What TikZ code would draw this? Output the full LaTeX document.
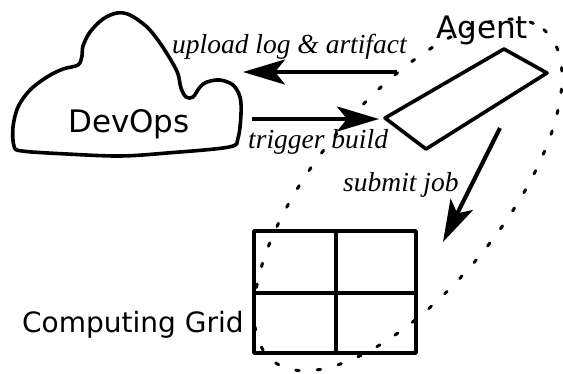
\documentclass[tikz,border=0pt]{standalone}
\usepackage{fontspec}
\setmainfont{DejaVu Sans}
\newfontfamily\labfont{Liberation Serif}
\usetikzlibrary{arrows.meta}
\tikzset{
  big/.style={font=\fontsize{31}{31}\selectfont, inner sep=0pt, anchor=base west},
  mid/.style={font=\fontsize{28}{28}\selectfont, inner sep=0pt, anchor=base west},
  lab/.style={font=\labfont\itshape\fontsize{27.5}{27.5}\selectfont, inner sep=0pt, anchor=base west},
  shape line/.style={line width=3.6pt, line join=round},
  flow/.style={line width=4.2pt, -{Stealth[length=42pt, width=25pt, inset=10pt]}},
  dotline/.style={line width=3pt, line cap=round, dash pattern=on 3.5pt off 18pt}
}
\begin{document}
\begin{tikzpicture}[x=1pt, y=-1pt]
\useasboundingbox (0,0) rectangle (563,373);
% cloud
\draw[shape line] plot[smooth cycle, tension=0.55] coordinates{
 (14,146) (13,127) (18,107) (30,90) (47,77) (63,69) (78,65) (82,56) (83,46)
 (90,32) (103,19) (117,13) (130,15) (147,27) (160,43) (172,62) (178,74)
 (181,88) (186,97) (193,97) (200,87) (207,82) (220,80) (233,85) (240,97)
 (241,114) (238,138) (229,147) (167,153) (120,156) (67,154) (22,151)};
\node[big] (devops) at (68,132) {DevOps};
% agent
\coordinate (a1) at (385,118);
\coordinate (a2) at (504,49);
\coordinate (a3) at (547,73);
\coordinate (a4) at (426,149);
\draw[shape line] (a1) -- (a2) -- (a3) -- (a4) -- cycle;
\node[big] (agent) at (436,38) {Agent};
% grid
\node[draw, shape line, minimum width=162pt, minimum height=122pt, inner sep=0pt] (grid) at (335,292) {};
\draw[shape line] ([xshift=1pt]grid.north) -- ([xshift=1pt]grid.south);
\draw[shape line] ([yshift=-1pt]grid.west) -- ([yshift=-1pt]grid.east);
\node[mid] (cg) at (22,332) {Computing Grid};
% dotted ellipse
\draw[dotline, rotate around={50.6:(408,195)}] (408,195) ellipse [x radius=214, y radius=94];
% arrows
\coordinate (us) at (397,72);
\coordinate (ue) at (243,72);
\draw[flow] (us) -- (ue);
\coordinate (ts) at (252,119);
\coordinate (te) at (379,119);
\draw[flow] (ts) -- (te);
\coordinate (ss) at (500,128);
\coordinate (se) at (443,242);
\draw[flow] (ss) -- (se);
% labels
\node[lab] (ul) at (172,53) {upload log \& artifact};
\node[lab] (tl) at (248,148) {trigger build};
\node[lab] (sl) at (343,191) {submit job};
\end{tikzpicture}
\end{document}
